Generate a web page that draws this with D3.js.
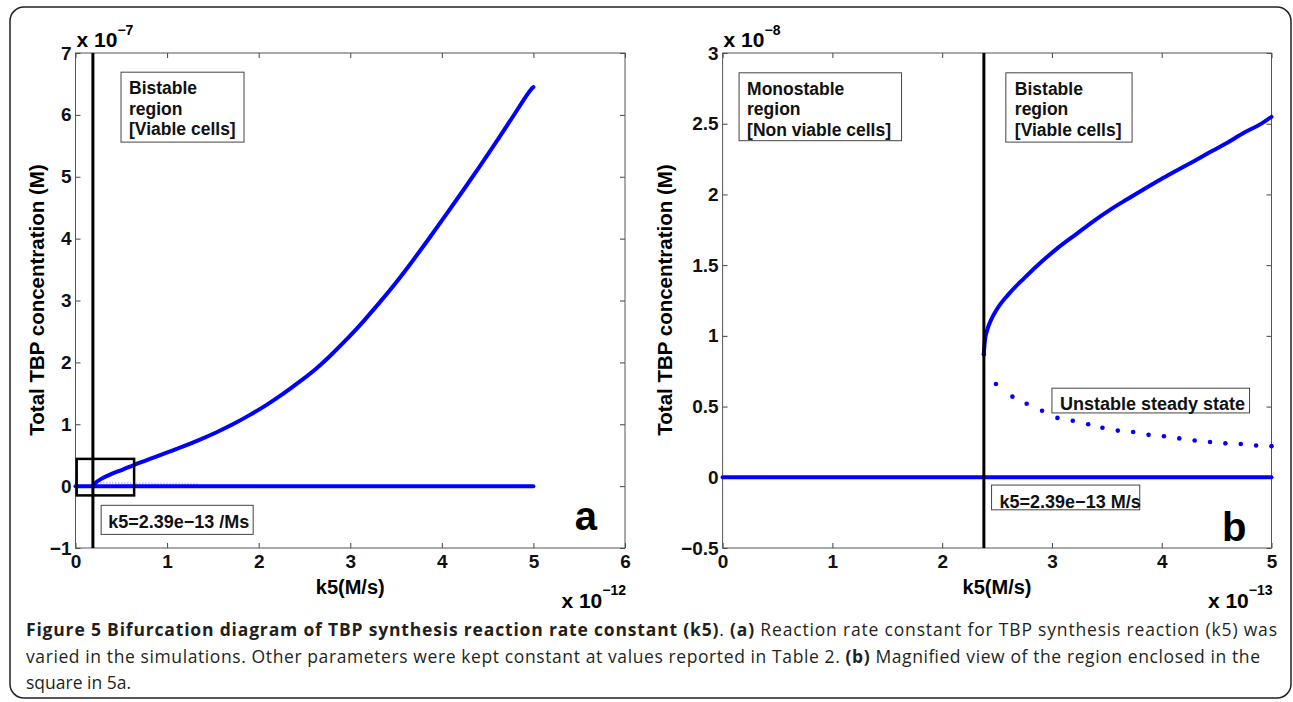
<!DOCTYPE html>
<html>
<head>
<meta charset="utf-8">
<script src="https://cdn.jsdelivr.net/npm/d3@7"></script>
<style>
  body { margin: 0; background: #fff; }
  svg text { font-family: "Liberation Sans", Arial, sans-serif; }
  .caption text { font-family: "Open Sans", sans-serif; }
</style>
</head>
<body>
<div id="chart"></div>
<script>
// Figure 5 - bifurcation diagrams of k5

// panel a : x in 1e-12 M/s, y in 1e-7 M
var kA_upper = [0.19, 0.213, 0.267, 0.377, 0.522, 0.631, 0.813, 0.996, 1.177, 1.359, 1.541, 1.723, 1.905, 2.087, 2.269, 2.451, 2.633, 2.778, 2.996, 3.142, 3.324, 3.507, 3.652, 3.870, 4.052, 4.234, 4.416, 4.598, 4.780, 4.962, 5.0];
var tbpA_upper = [0.0, 0.05, 0.11, 0.19, 0.27, 0.34, 0.44, 0.54, 0.64, 0.75, 0.87, 1.00, 1.15, 1.31, 1.49, 1.69, 1.90, 2.10, 2.42, 2.66, 2.97, 3.30, 3.58, 4.02, 4.40, 4.78, 5.17, 5.57, 5.98, 6.40, 6.45];
var kA_lower = [0, 5];
var tbpA_lower = [0, 0];
var kA_unstable = [0.24, 0.5, 0.8, 1.1, 1.35];
var tbpA_unstable = [0.06, 0.05, 0.045, 0.04, 0.04];
var kA_bif = 0.19;

// panel b : x in 1e-13 M/s, y in 1e-8 M
var kB_upper = [2.38, 2.39, 2.41, 2.45, 2.5, 2.6, 2.75, 2.9, 3.046, 3.228, 3.38, 3.532, 3.685, 3.837, 3.989, 4.141, 4.293, 4.445, 4.597, 4.749, 4.9, 5.0];
var tbpB_upper = [0.88, 0.97, 1.04, 1.12, 1.19, 1.29, 1.41, 1.52, 1.617, 1.723, 1.812, 1.893, 1.966, 2.037, 2.106, 2.171, 2.235, 2.301, 2.365, 2.436, 2.497, 2.549];
var kB_unstable = [2.38, 2.49, 2.64, 2.77, 2.91, 3.05, 3.19, 3.33, 3.46, 3.60, 3.74, 3.88, 4.02, 4.16, 4.30, 4.44, 4.58, 4.72, 4.86, 5.0];
var tbpB_unstable = [0.87, 0.66, 0.57, 0.52, 0.47, 0.42, 0.40, 0.375, 0.35, 0.33, 0.32, 0.30, 0.29, 0.275, 0.26, 0.25, 0.24, 0.235, 0.225, 0.22];
var kB_lower = [0, 5];
var tbpB_lower = [0, 0];
var kB_bif = 2.38;

// tick labels
var xTicksA = [0, 1, 2, 3, 4, 5, 6];
var xLabelsA = ['0', '1', '2', '3', '4', '5', '6'];
var yTicksA = [-1, 0, 1, 2, 3, 4, 5, 6, 7];
var yLabelsA = ['\u22121', '0', '1', '2', '3', '4', '5', '6', '7'];
var xTicksB = [0, 1, 2, 3, 4, 5];
var xLabelsB = ['0', '1', '2', '3', '4', '5'];
var yTicksB = [-0.5, 0, 0.5, 1, 1.5, 2, 2.5, 3];
var yLabelsB = ['\u22120.5', '0', '0.5', '1', '1.5', '2', '2.5', '3'];

var W = 1293, H = 702;
var blue = '#0000ff';

var svg = d3.select('#chart').append('svg')
    .attr('width', W)
    .attr('height', H);

// outer frame
svg.append('rect')
    .attr('x', 10).attr('y', 7)
    .attr('width', 1281).attr('height', 691)
    .attr('rx', 14)
    .attr('fill', 'none')
    .attr('stroke', '#222')
    .attr('stroke-width', 1.5);

function zip(xs, ys) {
    return xs.map(function(d, i) { return [d, ys[i]]; });
}

function drawPanel(o) {
    var x = d3.scaleLinear().domain(o.xDomain).range(o.xRange);
    var y = d3.scaleLinear().domain(o.yDomain).range([548, 53]);
    var g = svg.append('g');

    // axes, ticks pointing inward
    g.append('g')
        .attr('transform', 'translate(0,548)')
        .call(d3.axisBottom(x).tickValues(o.xTicks).tickSize(-5).tickPadding(7)
            .tickFormat(function(d, i) { return o.xLabels[i]; }));
    g.append('g')
        .attr('transform', 'translate(0,53)')
        .call(d3.axisTop(x).tickValues(o.xTicks).tickSize(-5).tickFormat(''));
    g.append('g')
        .attr('transform', 'translate(' + o.xRange[0] + ',0)')
        .call(d3.axisLeft(y).tickValues(o.yTicks).tickSize(-5).tickPadding(4)
            .tickFormat(function(d, i) { return o.yLabels[i]; }));
    g.append('g')
        .attr('transform', 'translate(' + o.xRange[1] + ',0)')
        .call(d3.axisRight(y).tickValues(o.yTicks).tickSize(-5).tickFormat(''));

    g.selectAll('.domain').remove();
    g.selectAll('.tick line').attr('stroke', '#444');
    g.selectAll('.tick text')
        .attr('fill', '#111')
        .style('font-size', '19px')
        .style('font-weight', 'bold')
        .style('font-family', '"Liberation Sans", Arial, sans-serif');

    g.append('rect')
        .attr('x', o.xRange[0]).attr('y', 53)
        .attr('width', o.xRange[1] - o.xRange[0]).attr('height', 495)
        .attr('fill', 'none')
        .attr('stroke', '#555')
        .attr('stroke-width', 1);

    var line = d3.line()
        .x(function(d) { return x(d[0]); })
        .y(function(d) { return y(d[1]); })
        .curve(o.curve || d3.curveMonotoneX);

    // faint unstable branch
    if (o.unstableLine) {
        g.append('path')
            .datum(o.unstableLine)
            .attr('d', line)
            .attr('fill', 'none')
            .attr('stroke', '#7f7fff')
            .attr('stroke-width', 2)
            .attr('stroke-dasharray', '1,2')
            .attr('opacity', 0.6);
    }

    [o.lower, o.upper].forEach(function(pts) {
        g.append('path')
            .datum(pts)
            .attr('d', line)
            .attr('fill', 'none')
            .attr('stroke', blue)
            .attr('stroke-width', 4)
            .attr('stroke-linecap', 'round')
            .attr('stroke-linejoin', 'round');
    });

    if (o.unstableDots) {
        g.selectAll('circle.dot')
            .data(o.unstableDots)
            .enter().append('circle')
                .attr('class', 'dot')
                .attr('cx', function(d) { return x(d[0]); })
                .attr('cy', function(d) { return y(d[1]); })
                .attr('r', 2.3)
                .attr('fill', blue);
    }

    // bifurcation point
    g.append('line')
        .attr('x1', x(o.bif)).attr('x2', x(o.bif))
        .attr('y1', 53).attr('y2', 548)
        .attr('stroke', '#000')
        .attr('stroke-width', 3);

    // zoom rectangle (panel a only)
    if (o.zoomBox) {
        var zb = o.zoomBox;
        g.append('rect')
            .attr('x', x(zb[0])).attr('y', y(zb[3]))
            .attr('width', x(zb[1]) - x(zb[0]))
            .attr('height', y(zb[2]) - y(zb[3]))
            .attr('fill', 'none')
            .attr('stroke', '#000')
            .attr('stroke-width', 2.5);
    }

    // annotation boxes
    o.notes.forEach(function(n) {
        var bx = x(n.x0), by = y(n.y1);
        g.append('rect')
            .attr('x', bx).attr('y', by)
            .attr('width', x(n.x1) - bx)
            .attr('height', y(n.y0) - by)
            .attr('fill', 'white')
            .attr('stroke', '#444')
            .attr('stroke-width', 1);
        n.lines.forEach(function(t, i) {
            g.append('text')
                .attr('x', bx + n.pad)
                .attr('y', by + n.first + i * 20.5)
                .attr('fill', '#111')
                .style('font-size', n.size + 'px')
                .style('font-weight', 'bold')
                .text(t);
        });
    });

    // panel letter
    g.append('text')
        .attr('x', x(o.letterAt[0]))
        .attr('y', y(o.letterAt[1]))
        .style('font-size', '40px')
        .style('font-weight', 'bold')
        .text(o.letter);

    // exponent labels
    var ey = g.append('text')
        .attr('x', o.xRange[0] + 1)
        .attr('y', 47)
        .style('font-size', '21px')
        .style('font-weight', 'bold');
    ey.append('tspan').text('x 10');
    ey.append('tspan').attr('dy', -12).style('font-size', '14px').text(o.yExp);

    var ex = g.append('text')
        .attr('x', o.xRange[1] + 1)
        .attr('y', 608)
        .attr('text-anchor', 'end')
        .style('font-size', '21px')
        .style('font-weight', 'bold');
    ex.append('tspan').text('x 10');
    ex.append('tspan').attr('dy', -13).style('font-size', '14px').text(o.xExp);

    // axis titles
    g.append('text')
        .attr('x', (o.xRange[0] + o.xRange[1]) / 2)
        .attr('y', 594)
        .attr('text-anchor', 'middle')
        .style('font-size', '20px')
        .style('font-weight', 'bold')
        .text('k5(M/s)');

    g.append('text')
        .attr('transform', 'translate(' + o.yTitleX + ',300) rotate(-90)')
        .attr('text-anchor', 'middle')
        .attr('dy', '0.35em')
        .style('font-size', '20.5px')
        .style('font-weight', 'bold')
        .text('Total TBP concentration (M)');
}

drawPanel({
    xDomain: [0, 6], xRange: [75.5, 625],
    yDomain: [-1, 7],
    xTicks: xTicksA, xLabels: xLabelsA,
    yTicks: yTicksA, yLabels: yLabelsA,
    upper: zip(kA_upper, tbpA_upper),
    lower: zip(kA_lower, tbpA_lower),
    unstableLine: zip(kA_unstable, tbpA_unstable),
    curve: d3.curveBasis,
    bif: kA_bif,
    zoomBox: [0.013, 0.64, -0.15, 0.44],
    notes: [
        { x0: 0.497, x1: 1.84, y0: 5.56, y1: 6.69, pad: 8, first: 22, size: 17.5, lines: ['Bistable', 'region', '[Viable cells]'] },
        { x0: 0.28, x1: 1.94, y0: -0.78, y1: -0.31, pad: 7, first: 23, size: 18, lines: ['k5=2.39e\u221213 /Ms'] }
    ],
    letter: 'a', letterAt: [5.45, -0.71],
    yExp: '\u22127', xExp: '\u221212',
    yTitleX: 37
});

drawPanel({
    xDomain: [0, 5], xRange: [722.6, 1271.5],
    yDomain: [-0.5, 3],
    xTicks: xTicksB, xLabels: xLabelsB,
    yTicks: yTicksB, yLabels: yLabelsB,
    upper: zip(kB_upper, tbpB_upper),
    lower: zip(kB_lower, tbpB_lower),
    unstableDots: zip(kB_unstable, tbpB_unstable),
    bif: kB_bif,
    notes: [
        { x0: 0.15, x1: 1.63, y0: 2.38, y1: 2.86, pad: 8, first: 22, size: 17.5, lines: ['Monostable', 'region', '[Non viable cells]'] },
        { x0: 2.58, x1: 3.73, y0: 2.37, y1: 2.86, pad: 9, first: 22, size: 17.5, lines: ['Bistable', 'region', '[Viable cells]'] },
        { x0: 3.0, x1: 4.8, y0: 0.455, y1: 0.63, pad: 8, first: 22, size: 18, lines: ['Unstable steady state'] },
        { x0: 2.45, x1: 3.8, y0: -0.23, y1: -0.055, pad: 8, first: 23, size: 18, lines: ['k5=2.39e\u221213 M/s'] }
    ],
    letter: 'b', letterAt: [4.55, -0.45],
    yExp: '\u22128', xExp: '\u221213',
    yTitleX: 665
});

// caption
var cap = svg.append('g').attr('class', 'caption').attr('fill', '#231f20');

var c1 = cap.append('text')
    .attr('x', 26).attr('y', 636)
    .attr('textLength', 1251).attr('lengthAdjust', 'spacing')
    .style('font-size', '17.5px');
c1.append('tspan').style('font-weight', 'bold').text('Figure 5 Bifurcation diagram of TBP synthesis reaction rate constant (k5)');
c1.append('tspan').text('. ');
c1.append('tspan').style('font-weight', 'bold').text('(a)');
c1.append('tspan').text(' Reaction rate constant for TBP synthesis reaction (k5) was');

var c2 = cap.append('text')
    .attr('x', 26).attr('y', 663)
    .attr('textLength', 1234).attr('lengthAdjust', 'spacing')
    .style('font-size', '17.5px');
c2.append('tspan').text('varied in the simulations. Other parameters were kept constant at values reported in Table 2. ');
c2.append('tspan').style('font-weight', 'bold').text('(b)');
c2.append('tspan').text(' Magnified view of the region enclosed in the');

cap.append('text')
    .attr('x', 26).attr('y', 689)
    .style('font-size', '17.5px')
    .text('square in 5a.');
</script>
</body>
</html>
